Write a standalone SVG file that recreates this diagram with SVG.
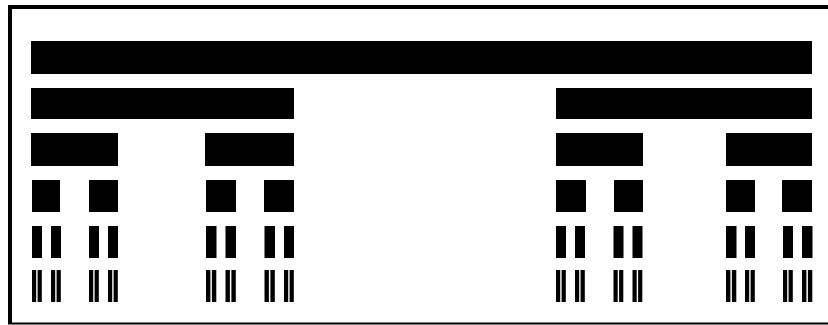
<svg xmlns="http://www.w3.org/2000/svg" width="828" height="325" viewBox="0 0 828 325">
<style>
.b{fill:#000}
.f{fill:none;stroke:#000}
</style>
<rect x="0" y="0" width="828" height="325" fill="#fff"/>
<g id="frame">
<line class="f" x1="8" y1="7" x2="828" y2="7" stroke-width="4"/>
<line class="f" x1="10" y1="5" x2="10" y2="324" stroke-width="4"/>
<line class="f" x1="8" y1="323.5" x2="828" y2="323.5" stroke-width="2"/>
</g>
<g id="level0" class="b">
<rect x="31" y="41" width="781" height="33"/>
</g>
<g id="level1" class="b">
<rect x="31" y="88" width="263" height="31"/>
<rect x="556" y="88" width="256" height="31"/>
</g>
<g id="level2" class="b">
<rect x="31" y="133" width="87" height="33"/>
<rect x="205" y="133" width="89" height="33"/>
<rect x="556" y="133" width="87" height="33"/>
<rect x="726" y="133" width="86" height="33"/>
</g>
<g id="level3" class="b">
<rect x="32" y="180" width="28" height="32"/>
<rect x="89" y="180" width="29" height="32"/>
<rect x="206" y="180" width="30" height="32"/>
<rect x="264" y="180" width="30" height="32"/>
<rect x="556" y="180" width="30" height="32"/>
<rect x="614" y="180" width="29" height="32"/>
<rect x="726" y="180" width="29" height="32"/>
<rect x="782" y="180" width="30" height="32"/>
</g>
<g id="level4" class="b">
<rect x="32" y="226" width="10" height="32"/>
<rect x="51" y="226" width="10" height="32"/>
<rect x="89" y="226" width="10" height="32"/>
<rect x="108" y="226" width="10" height="32"/>
<rect x="206" y="226" width="10.5" height="32"/>
<rect x="225.5" y="226" width="10.5" height="32"/>
<rect x="264.5" y="226" width="10.5" height="32"/>
<rect x="284" y="226" width="10" height="32"/>
<rect x="556" y="226" width="10" height="32"/>
<rect x="575" y="226" width="10" height="32"/>
<rect x="613.5" y="226" width="10" height="32"/>
<rect x="632.5" y="226" width="10" height="32"/>
<rect x="726" y="226" width="10.5" height="32"/>
<rect x="745" y="226" width="10" height="32"/>
<rect x="783" y="226" width="10" height="32"/>
<rect x="802" y="226" width="10.5" height="32"/>
</g>
<g id="level5" class="b">
<rect x="32" y="270" width="4.2" height="32"/><rect x="37.6" y="270" width="4.2" height="32"/>
<rect x="51" y="270" width="4.2" height="32"/><rect x="56.6" y="270" width="4.2" height="32"/>
<rect x="89" y="270" width="4.2" height="32"/><rect x="94.6" y="270" width="4.2" height="32"/>
<rect x="108" y="270" width="4.2" height="32"/><rect x="113.6" y="270" width="4.2" height="32"/>
<rect x="206" y="270" width="4.4" height="32"/><rect x="211.9" y="270" width="4.4" height="32"/>
<rect x="225.5" y="270" width="4.4" height="32"/><rect x="231.4" y="270" width="4.4" height="32"/>
<rect x="264.5" y="270" width="4.4" height="32"/><rect x="270.4" y="270" width="4.4" height="32"/>
<rect x="284" y="270" width="4.2" height="32"/><rect x="289.6" y="270" width="4.2" height="32"/>
<rect x="556" y="270" width="4.2" height="32"/><rect x="561.6" y="270" width="4.2" height="32"/>
<rect x="575" y="270" width="4.2" height="32"/><rect x="580.6" y="270" width="4.2" height="32"/>
<rect x="613.5" y="270" width="4.2" height="32"/><rect x="619.1" y="270" width="4.2" height="32"/>
<rect x="632.5" y="270" width="4.2" height="32"/><rect x="638.1" y="270" width="4.2" height="32"/>
<rect x="726" y="270" width="4.4" height="32"/><rect x="731.9" y="270" width="4.4" height="32"/>
<rect x="745" y="270" width="4.2" height="32"/><rect x="750.6" y="270" width="4.2" height="32"/>
<rect x="783" y="270" width="4.2" height="32"/><rect x="788.6" y="270" width="4.2" height="32"/>
<rect x="802" y="270" width="4.4" height="32"/><rect x="807.9" y="270" width="4.4" height="32"/>
</g>
</svg>
